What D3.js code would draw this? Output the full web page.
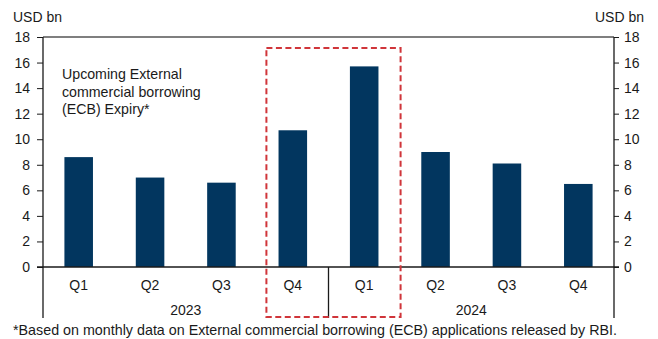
<!DOCTYPE html>
<html>
<head>
<meta charset="utf-8">
<script src="https://cdn.jsdelivr.net/npm/d3@7"></script>
<style>
  html, body { margin: 0; padding: 0; background: #fff; }
  svg { display: block; font-family: "Liberation Sans", Arial, sans-serif; }
</style>
</head>
<body>
<svg id="chart" width="658" height="339"></svg>
<script>
// Quarterly ECB maturities, USD bn
const quarters = ["Q1", "Q2", "Q3", "Q4", "Q1", "Q2", "Q3", "Q4"];
const years = ["2023", "2024"];
const expiry = [8.6, 7.0, 6.6, 10.7, 15.7, 9.0, 8.1, 6.5];
const yTicks = [0, 2, 4, 6, 8, 10, 12, 14, 16, 18];
const highlight = [3, 4]; // Q4 2023 – Q1 2024

const svg = d3.select("#chart");
const m = { left: 43, right: 614, top: 37, bottom: 267, catBottom: 318 };
const ink = "#1a1a1a";
const barColor = "#02365f";

const x = d3.scaleBand().domain(d3.range(expiry.length))
  .range([m.left, m.right]).paddingInner(0.6).paddingOuter(0.3);
const y = d3.scaleLinear().domain([0, 18]).range([m.bottom, m.top]);

// top frame line
svg.append("line").attr("x1", m.left).attr("x2", m.right).attr("y1", m.top).attr("y2", m.top)
  .attr("stroke", "#555").attr("stroke-width", 1.5);

// bars
svg.append("g").selectAll("rect").data(expiry).join("rect")
  .attr("x", (d, i) => x(i))
  .attr("width", x.bandwidth())
  .attr("y", d => y(d))
  .attr("height", d => y(0) - y(d))
  .attr("fill", barColor);

// value axes
const leftAxis = d3.axisLeft(y).tickValues(yTicks).tickSize(6).tickPadding(7);
const rightAxis = d3.axisRight(y).tickValues(yTicks).tickSize(5).tickPadding(5);
[[leftAxis, m.left], [rightAxis, m.right]].forEach(([ax, pos]) => {
  const g = svg.append("g").attr("transform", `translate(${pos},0)`).call(ax);
  g.select(".domain").remove();
  g.selectAll(".tick line").attr("stroke", ink);
  g.selectAll("text").attr("font-size", 14).attr("fill", ink)
    .attr("font-family", "Liberation Sans, Arial, sans-serif");
});

// vertical axis lines running down through the category area
[m.left, m.right].forEach(px => svg.append("line")
  .attr("x1", px).attr("x2", px).attr("y1", m.top).attr("y2", m.catBottom)
  .attr("stroke", ink).attr("stroke-width", 1.3));

// zero line
svg.append("line").attr("x1", m.left - 6).attr("x2", m.right + 5).attr("y1", y(0)).attr("y2", y(0))
  .attr("stroke", ink).attr("stroke-width", 1.5);

// year divider
const mid = (x(3) + x.bandwidth() + x(4)) / 2;
svg.append("line").attr("x1", mid).attr("x2", mid).attr("y1", y(0)).attr("y2", m.catBottom)
  .attr("stroke", ink).attr("stroke-width", 1.3);

// quarter labels
svg.append("g").selectAll("text").data(quarters).join("text")
  .attr("x", (d, i) => x(i) + x.bandwidth() / 2)
  .attr("y", 290)
  .attr("text-anchor", "middle")
  .attr("font-size", 14).attr("fill", ink)
  .text(d => d);

// year labels
years.forEach((yr, k) => {
  const cx = k === 0 ? (m.left + mid) / 2 : (mid + m.right) / 2;
  svg.append("text").attr("x", cx).attr("y", 315).attr("text-anchor", "middle")
    .attr("font-size", 14).attr("fill", ink).text(yr);
});

// dashed box around the peak maturities
const step = x.step();
const boxL = x(highlight[0]) - step * 0.17;
const boxR = x(highlight[1]) + x.bandwidth() + step * 0.31;
svg.append("rect")
  .attr("x", boxL).attr("y", 48)
  .attr("width", boxR - boxL).attr("height", 317 - 48)
  .attr("fill", "none")
  .attr("stroke", "#d0353a").attr("stroke-width", 2)
  .attr("stroke-dasharray", "6,3.5");

// unit labels
svg.append("text").attr("x", 13).attr("y", 22).attr("font-size", 14).attr("fill", ink).text("USD bn");
svg.append("text").attr("x", 644).attr("y", 22).attr("text-anchor", "end").attr("font-size", 14).attr("fill", ink).text("USD bn");

// chart annotation
const note = svg.append("text").attr("x", 62).attr("y", 79).attr("font-size", 14.2).attr("fill", ink);
["Upcoming External", "commercial borrowing", "(ECB) Expiry*"].forEach((t, i) =>
  note.append("tspan").attr("x", 62).attr("dy", i === 0 ? 0 : 17.5).text(t));

// footnote
svg.append("text").attr("x", 13).attr("y", 335).attr("font-size", 14.3).attr("fill", ink)
  .text("*Based on monthly data on External commercial borrowing (ECB) applications released by RBI.");
</script>
</body>
</html>
